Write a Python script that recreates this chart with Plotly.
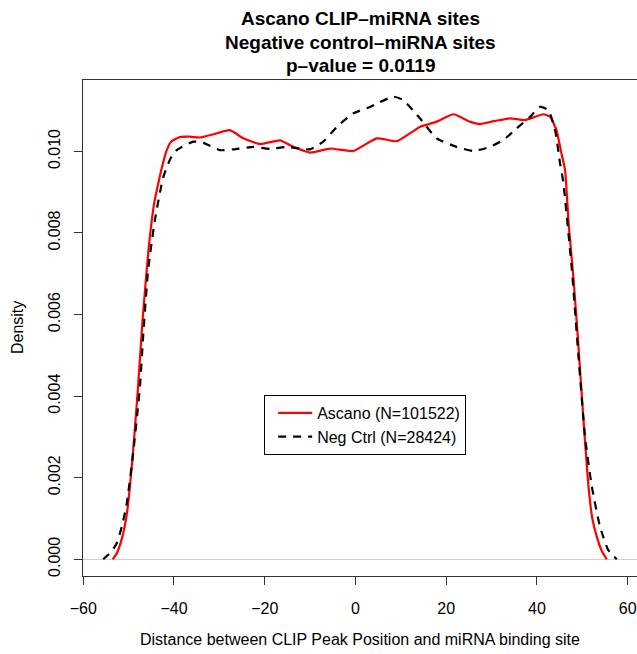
import plotly.graph_objects as go

# Ascano (N=101522) density curve
ascano_x = [-53.5, -52.6, -51.5, -50.4, -49.2, -48.0, -46.9, -45.6, -44.4, -43.3, -42.4, -41.6, -40.6,
            -38.7, -36.5, -34.3, -31.3, -27.7, -24.7, -21.0, -16.6, -14.4, -10.0, -5.6, -0.5, 4.7, 9.1,
            14.2, 17.9, 21.6, 25.2, 27.4, 30.5, 34.1, 37.4, 41.4, 42.9, 44.3, 45.3, 46.2, 47.0,
            48.0, 49.1, 50.2, 51.3, 52.2, 53.2, 54.3, 55.4]
ascano_y = [0.0, 0.00015, 0.0005, 0.0011, 0.0024, 0.0041, 0.0059, 0.0076, 0.0087, 0.0093, 0.00972,
            0.01003, 0.01024, 0.01035, 0.01036, 0.01034, 0.01042, 0.01052, 0.01032, 0.01018, 0.01027,
            0.01015, 0.00997, 0.01007, 0.01001, 0.01032, 0.01025, 0.0106, 0.01073, 0.01091,
            0.01073, 0.01067, 0.01074, 0.01081, 0.01077, 0.01091, 0.01085, 0.01052, 0.0100,
            0.00954, 0.0082, 0.00695, 0.0053, 0.0035, 0.00185, 0.0010, 0.00055, 0.0002, 0.0]

# Negative control (N=28424) density curve
neg_x = [-55.6, -54.8, -53.7, -52.6, -51.5, -50.4, -49.0, -47.5, -46.8, -45.7, -44.2, -42.4, -40.8, -39.4,
         -35.7, -33.5, -29.9, -26.9, -22.5, -18.8, -15.2, -10.0, -7.1, -4.1, -0.5, 3.2, 8.3,
         10.5, 14.2, 17.9, 22.3, 26.0, 29.6, 32.6, 35.5, 38.5, 40.7, 42.5, 44.0, 45.1, 45.8,
         47.7, 49.1, 50.6, 52.1, 53.9, 55.7, 57.6]
neg_y = [0.0, 0.00008, 0.0002, 0.0004, 0.0008, 0.00137, 0.0026, 0.00423, 0.00546, 0.00709, 0.00832,
         0.00935, 0.00982, 0.01003, 0.01024, 0.01021, 0.01003, 0.01005, 0.01011, 0.01006, 0.01011,
         0.01005, 0.01024, 0.0106, 0.01093, 0.01109, 0.01134, 0.01126, 0.01081, 0.01032,
         0.01011, 0.01001, 0.01011, 0.01028, 0.01056, 0.01085, 0.01109, 0.01101, 0.01052,
         0.0097, 0.00925, 0.00709, 0.00505, 0.0030, 0.00178, 0.0008, 0.00023, 0.0]

x_ticks = [-60, -40, -20, 0, 20, 40, 60]
y_ticks = [0.000, 0.002, 0.004, 0.006, 0.008, 0.010]
y_tick_labels = ["0.000", "0.002", "0.004", "0.006", "0.008", "0.010"]
title_lines = ["Ascano CLIP\u2013miRNA sites", "Negative control\u2013miRNA sites", "p\u2013value = 0.0119"]

FONT = "Liberation Sans, Arial, Helvetica, sans-serif"

fig = go.Figure()
fig.add_trace(go.Scatter(x=ascano_x, y=ascano_y, mode="lines", name="Ascano (N=101522)",
                         line=dict(color="#ff0000", width=2.2, shape="spline", smoothing=0.5)))
fig.add_trace(go.Scatter(x=neg_x, y=neg_y, mode="lines", name="Neg Ctrl (N=28424)",
                         line=dict(color="#000000", width=2.2, dash="8px,7px", shape="spline", smoothing=0.5)))

annotations = []
for txt, py in zip(title_lines, [1.125, 1.0766, 1.0302]):
    annotations.append(dict(text="<b>%s</b>" % txt, xref="paper", yref="paper", x=0.5, y=py,
                            xanchor="center", yanchor="middle", showarrow=False,
                            font=dict(family=FONT, size=19, color="#000")))
annotations.append(dict(text="Distance between CLIP Peak Position and miRNA binding site",
                        xref="paper", yref="paper", x=0.5, y=-0.129, xanchor="center", yanchor="middle",
                        showarrow=False, font=dict(family=FONT, size=16, color="#000")))
annotations.append(dict(text="Density", xref="paper", yref="paper", x=-0.119, y=0.5, textangle=-90,
                        xanchor="center", yanchor="middle", showarrow=False,
                        font=dict(family=FONT, size=16, color="#000")))

fig.update_layout(
    width=637, height=654,
    margin=dict(l=83, r=0, t=80, b=78, autoexpand=False),
    paper_bgcolor="white", plot_bgcolor="white",
    font=dict(family=FONT, size=16, color="#000"),
    showlegend=True,
    legend=dict(x=0.327, y=0.365, xanchor="left", yanchor="top",
                bordercolor="#000", borderwidth=1, bgcolor="white",
                font=dict(family=FONT, size=16, color="#000"),
                indentation=8, itemwidth=34, tracegroupgap=0),
    annotations=annotations,
    xaxis=dict(range=[-60.05, 62.05], tickmode="array", tickvals=x_ticks,
               ticktext=[str(v).replace("-", "\u2212") for v in x_ticks], automargin=False,
               showgrid=False, zeroline=False, showline=True, linecolor="#333", linewidth=1,
               mirror=True, ticks="outside", ticklen=8, tickcolor="#333", tickwidth=1,
               ticklabelstandoff=10),
    yaxis=dict(range=[-0.00041, 0.01175], tickmode="array", tickvals=y_ticks, ticktext=y_tick_labels,
               automargin=False,
               showgrid=False, zeroline=True, zerolinecolor="#d0d0d0", zerolinewidth=1,
               showline=True, linecolor="#333", linewidth=1, mirror=False,
               ticks="outside", ticklen=8, tickcolor="#333", tickwidth=1, tickangle=-90,
               ticklabelstandoff=8),
)

fig.write_html("out.html", config={"displayModeBar": False},
               post_script="document.body.style.margin='0';document.body.style.padding='0';"
                           "document.documentElement.style.overflow='hidden';")
